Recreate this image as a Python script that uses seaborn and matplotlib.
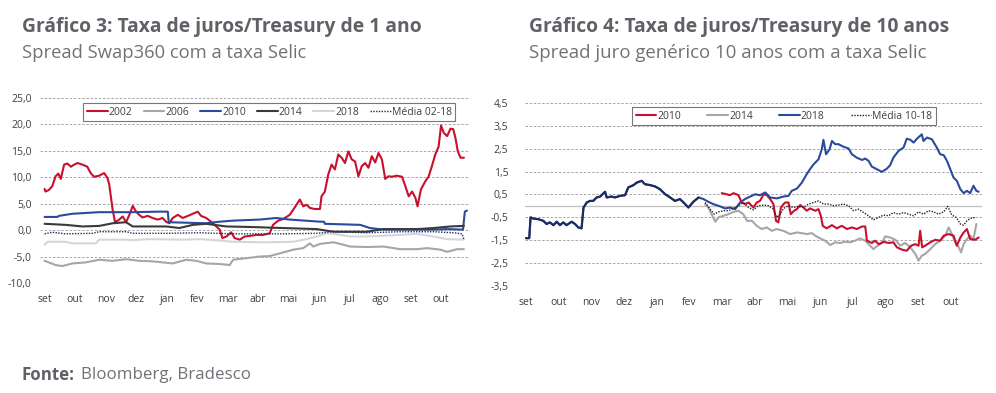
import numpy as np
import pandas as pd
import seaborn as sns
import matplotlib.pyplot as plt

# --- Grafico 3: spread Swap360 vs Selic (months since set) ---
m_2002 = [0.0, 0.03, 0.14, 0.25, 0.36, 0.45, 0.53, 0.64, 0.75, 0.86, 0.97, 1.08, 1.24, 1.40, 1.51, 1.62,
          1.79, 1.95, 2.06, 2.12, 2.23, 2.31, 2.45, 2.56, 2.67, 2.78, 2.89, 3.00, 3.10, 3.21, 3.38, 3.54,
          3.71, 3.87, 3.98, 4.09, 4.20, 4.37, 4.53, 4.70, 4.86, 5.02, 5.13, 5.30, 5.52, 5.74, 5.83, 5.96,
          6.12, 6.23, 6.40, 6.56, 6.73, 6.94, 7.16, 7.38, 7.49, 7.66, 7.82, 8.04, 8.26, 8.37, 8.48, 8.59,
          8.70, 8.86, 9.03, 9.08, 9.19, 9.30, 9.41, 9.52, 9.63, 9.74, 9.85, 9.96, 10.07, 10.18, 10.29,
          10.40, 10.51, 10.62, 10.73, 10.84, 10.95, 11.06, 11.17, 11.28, 11.39, 11.55, 11.72, 11.83,
          11.94, 12.05, 12.16, 12.23, 12.34, 12.48, 12.59, 12.70, 12.81, 12.92, 13.00, 13.09, 13.20,
          13.31, 13.40, 13.47, 13.55, 13.64, 13.75]
v_2002 = [7.8, 7.3, 7.6, 8.3, 10.2, 10.7, 9.7, 12.4, 12.6, 12.0, 12.4, 12.7, 12.4, 12.0, 10.8, 10.1,
          10.3, 10.8, 9.9, 8.6, 3.9, 1.5, 2.0, 2.6, 1.5, 2.9, 4.6, 3.5, 2.9, 2.4, 2.7, 2.3,
          2.0, 2.3, 1.6, 1.3, 2.3, 2.9, 2.3, 2.7, 3.1, 3.5, 2.7, 2.3, 1.3, 0.1, -1.5, -1.2,
          -0.4, -1.5, -1.8, -1.2, -1.1, -0.9, -0.9, -0.6, 1.0, 1.8, 2.1, 2.9, 4.8, 5.8, 4.5, 4.8,
          4.2, 4.0, 4.0, 6.4, 7.3, 10.5, 12.4, 11.5, 14.3, 13.7, 12.7, 14.9, 13.4, 13.0, 10.2,
          12.1, 12.7, 11.8, 14.0, 12.8, 14.6, 13.4, 9.7, 10.2, 10.1, 10.3, 10.1, 8.3,
          6.4, 7.3, 6.1, 4.5, 7.7, 9.2, 10.1, 12.1, 14.3, 15.8, 19.8, 18.4, 17.8,
          19.2, 19.1, 17.5, 14.9, 13.7, 13.7]

m_2006 = [0.0, 0.36, 0.58, 0.91, 1.35, 1.79, 2.23, 2.67, 3.10, 3.54, 4.20, 4.64, 4.97, 5.30, 5.74, 6.07,
          6.18, 6.62, 7.05, 7.38, 7.71, 8.15, 8.48, 8.70, 8.81, 9.03, 9.47, 9.69, 10.02, 10.56, 11.11,
          11.66, 12.21, 12.54, 12.98, 13.20, 13.53, 13.75]
v_2006 = [-5.8, -6.6, -6.8, -6.3, -6.1, -5.6, -5.8, -5.5, -5.8, -5.9, -6.3, -5.6, -5.8, -6.3, -6.4, -6.6,
          -5.6, -5.3, -5.0, -4.9, -4.4, -3.7, -3.4, -2.5, -3.1, -2.6, -2.3, -2.6, -3.1, -3.2, -3.1,
          -3.6, -3.6, -3.4, -3.7, -4.1, -3.6, -3.6]

m_2010 = [0.0, 0.42, 0.47, 0.91, 1.79, 2.89, 3.76, 4.04, 4.07, 5.30, 5.74, 6.18, 7.05, 7.60, 8.04, 9.03,
          9.16, 9.19, 10.35, 10.67, 11.11, 12.76, 13.20, 13.72, 13.78, 13.85]
v_2010 = [2.5, 2.5, 2.7, 3.1, 3.4, 3.4, 3.5, 3.5, 1.5, 1.3, 1.6, 1.8, 2.0, 2.3, 2.0, 1.6,
          1.6, 1.2, 1.0, 0.4, 0.1, 0.1, 0.2, 0.1, 3.5, 3.7]

m_2014 = [0.0, 0.69, 1.24, 1.79, 2.23, 2.67, 2.89, 3.98, 4.42, 4.86, 5.30, 5.96, 6.73, 7.82, 8.92, 9.47,
          10.56, 11.11, 12.21, 12.76, 13.31, 13.75]
v_2014 = [1.2, 1.0, 0.7, 0.8, 1.3, 1.5, 0.7, 0.7, 0.4, 1.0, 1.2, 0.7, 0.6, 0.4, 0.2, -0.3,
          -0.3, 0.2, 0.2, 0.4, 0.7, 0.8]

m_2018 = [0.0, 0.09, 0.69, 0.91, 1.68, 1.79, 2.67, 2.89, 3.43, 4.53, 5.08, 5.63, 6.18, 7.27, 8.15, 8.59,
          8.92, 9.25, 9.47, 10.02, 10.56, 11.66, 12.21, 12.76, 13.20, 13.75]
v_2018 = [-2.8, -2.2, -2.2, -2.5, -2.5, -1.8, -1.8, -1.9, -1.7, -1.8, -1.7, -1.9, -2.2, -2.3, -2.2, -1.7,
          -1.2, -0.6, -0.7, -1.2, -1.2, -0.9, -0.7, -1.2, -1.7, -1.8]

m_media0218 = [0.0, 0.25, 0.69, 1.57, 1.79, 2.67, 2.89, 3.98, 5.08, 6.18, 7.82, 8.92, 9.47, 10.56, 11.66,
               12.76, 13.42, 13.69, 13.75]
v_media0218 = [-0.7, -0.4, -0.7, -0.6, -0.3, -0.3, -0.6, -0.6, -0.5, -0.7, -0.7, -0.6, -0.3, -0.5, -0.3,
               -0.3, -0.5, -0.7, -1.8]

# --- Grafico 4: spread juro generico 10 anos vs Selic ---
r_m_2018 = [0.00, 0.10, 0.14, 0.22, 0.38, 0.53, 0.63, 0.73, 0.84, 0.94, 1.04, 1.14, 1.24, 1.40, 1.50, 1.60,
            1.70, 1.76, 1.86, 1.96, 2.06, 2.16, 2.27, 2.42, 2.47, 2.62, 2.72, 2.88, 3.03, 3.13, 3.29, 3.39,
            3.54, 3.64, 3.80, 3.95, 4.10, 4.26, 4.41, 4.56, 4.71, 4.82, 4.97, 5.12, 5.28, 5.43, 5.58, 5.73,
            5.94, 6.09, 6.24, 6.40, 6.55, 6.70, 6.86, 7.01, 7.16, 7.32, 7.47, 7.67, 7.88, 8.03, 8.13, 8.29,
            8.44, 8.59, 8.69, 8.80, 8.95, 9.05, 9.10, 9.18, 9.29, 9.36, 9.46, 9.56, 9.71, 9.87, 9.97, 10.12,
            10.28, 10.38, 10.48, 10.58, 10.73, 10.89, 11.04, 11.14, 11.24, 11.40, 11.55, 11.65, 11.76,
            11.86, 11.96, 12.11, 12.16, 12.27, 12.42, 12.57, 12.67, 12.78, 12.88, 12.98, 13.08, 13.18,
            13.29, 13.39, 13.49, 13.59, 13.69, 13.78, 13.85]
r_v_2018 = [-1.41, -1.41, -0.50, -0.55, -0.58, -0.65, -0.79, -0.72, -0.84, -0.69, -0.84, -0.72, -0.84, -0.69,
            -0.79, -0.94, -0.98, -0.07, 0.15, 0.22, 0.22, 0.37, 0.41, 0.62, 0.37, 0.41, 0.37, 0.44, 0.47,
            0.81, 0.91, 1.02, 1.10, 0.95, 0.91, 0.85, 0.73, 0.51, 0.37, 0.22, 0.30, 0.15, -0.07, 0.18, 0.37,
            0.30, 0.18, 0.08, -0.02, -0.11, -0.07, -0.14, 0.15, 0.30, 0.41, 0.51, 0.47, 0.59, 0.37, 0.33,
            0.41, 0.44, 0.66, 0.76, 1.02, 1.39, 1.61, 1.82, 2.04, 2.48, 2.89, 2.26, 2.48, 2.84, 2.70, 2.70,
            2.59, 2.51, 2.26, 2.11, 2.01, 2.07, 1.97, 1.72, 1.61, 1.49, 1.63, 1.78, 2.11, 2.41, 2.55, 2.94,
            2.89, 2.77, 2.94, 3.13, 2.84, 2.99, 2.91, 2.55, 2.26, 2.22, 1.97, 1.61, 1.24, 1.10, 0.73, 0.56,
            0.66, 0.56, 0.88, 0.66, 0.62]

r_m_2010 = [5.99, 6.14, 6.24, 6.35, 6.50, 6.60, 6.70, 6.81, 6.96, 7.06, 7.16, 7.27, 7.37, 7.47, 7.57, 7.65,
            7.72, 7.80, 7.88, 7.93, 8.03, 8.10, 8.20, 8.29, 8.39, 8.49, 8.59, 8.69, 8.85, 8.95, 9.02, 9.08,
            9.20, 9.36, 9.51, 9.66, 9.82, 9.97, 10.12, 10.28, 10.38, 10.43, 10.58, 10.68, 10.79, 10.94,
            11.09, 11.24, 11.35, 11.50, 11.65, 11.78, 11.91, 12.01, 12.06, 12.12, 12.21, 12.37, 12.52,
            12.67, 12.78, 12.93, 13.08, 13.18, 13.29, 13.39, 13.49, 13.59, 13.74, 13.85]
r_v_2010 = [0.56, 0.51, 0.47, 0.56, 0.47, 0.15, 0.08, 0.15, -0.07, 0.15, 0.22, 0.51, 0.47, 0.30, 0.08, -0.65,
            -0.72, -0.07, 0.08, 0.15, 0.15, -0.36, -0.21, -0.14, 0.04, -0.07, -0.21, -0.11, -0.21, -0.14,
            -0.43, -0.87, -0.98, -0.84, -0.98, -0.87, -1.01, -0.94, -1.01, -0.90, -0.90, -1.52, -1.62,
            -1.52, -1.67, -1.57, -1.62, -1.59, -1.81, -1.91, -1.96, -1.74, -1.67, -1.74, -1.09, -1.81,
            -1.74, -1.59, -1.48, -1.52, -1.30, -1.23, -1.30, -1.74, -1.38, -1.16, -1.01, -1.45, -1.48, -1.38]

r_m_2014 = [5.48, 5.58, 5.68, 5.79, 5.89, 6.04, 6.19, 6.35, 6.50, 6.65, 6.76, 6.91, 7.06, 7.21, 7.37, 7.52,
            7.67, 7.88, 8.08, 8.29, 8.44, 8.59, 8.74, 8.85, 9.00, 9.15, 9.31, 9.46, 9.61, 9.77, 9.92, 10.07,
            10.22, 10.38, 10.53, 10.63, 10.73, 10.89, 10.99, 11.14, 11.30, 11.45, 11.60, 11.76, 11.91,
            12.01, 12.11, 12.21, 12.37, 12.52, 12.67, 12.83, 12.93, 13.03, 13.13, 13.23, 13.31, 13.39,
            13.49, 13.59, 13.69, 13.78]
r_v_2014 = [0.08, -0.07, -0.36, -0.69, -0.50, -0.43, -0.36, -0.26, -0.21, -0.36, -0.65, -0.65, -0.87, -1.01,
            -0.94, -1.09, -1.01, -1.09, -1.23, -1.16, -1.19, -1.23, -1.19, -1.30, -1.42, -1.52, -1.71, -1.59,
            -1.62, -1.57, -1.59, -1.52, -1.42, -1.52, -1.74, -1.89, -1.77, -1.62, -1.33, -1.38, -1.48, -1.74,
            -1.62, -1.81, -2.10, -2.39, -2.18, -2.10, -1.89, -1.67, -1.52, -1.30, -0.94, -1.23, -1.59, -1.77,
            -2.03, -1.67, -1.45, -1.30, -1.45, -0.79]

r_m_media1018 = [5.48, 5.63, 5.76, 5.89, 6.04, 6.19, 6.35, 6.50, 6.65, 6.81, 6.96, 7.11, 7.27, 7.42, 7.57,
                 7.67, 7.78, 7.88, 8.03, 8.18, 8.34, 8.49, 8.64, 8.80, 8.95, 9.10, 9.26, 9.41, 9.56, 9.71,
                 9.87, 10.02, 10.17, 10.33, 10.48, 10.63, 10.79, 10.94, 11.09, 11.24, 11.40, 11.55, 11.70,
                 11.86, 12.01, 12.16, 12.32, 12.47, 12.62, 12.78, 12.90, 13.03, 13.16, 13.29, 13.39, 13.49,
                 13.59, 13.74]
r_v_media1018 = [0.15, -0.14, -0.36, -0.26, -0.21, -0.21, -0.11, 0.01, 0.15, -0.07, -0.17, 0.01, 0.04, 0.01,
                 -0.14, -0.50, -0.36, -0.11, 0.01, -0.07, -0.02, -0.07, 0.08, 0.15, 0.22, 0.08, 0.08, 0.01,
                 0.04, 0.08, 0.01, -0.21, -0.14, -0.29, -0.43, -0.61, -0.50, -0.40, -0.43, -0.29, -0.36,
                 -0.29, -0.36, -0.43, -0.26, -0.36, -0.21, -0.26, -0.36, -0.26, -0.02, -0.40, -0.50, -0.79,
                 -0.84, -0.65, -0.55, -0.50]

month_labels = ["set", "out", "nov", "dez", "jan", "fev", "mar", "abr", "mai", "jun", "jul", "ago", "set", "out"]
left_yticks = [25, 20, 15, 10, 5, 0, -5, -10]
right_yticks = [4.5, 3.5, 2.5, 1.5, 0.5, -0.5, -1.5, -2.5, -3.5]

RED = "#C8102E"
GRAY = "#A6A6A6"
LIGHT = "#D6D6D6"
BLUE = "#2B4A9B"
NAVY = "#1F2B5C"
DARK = "#3A3A3A"
TXT = "#5F6166"
SUB = "#707277"

sns.set_style("white")
plt.rcParams["font.family"] = ["Open Sans", "DejaVu Sans"]

fig = plt.figure(figsize=(9.96, 3.93), dpi=100)
ax1 = fig.add_axes([0.0402, 0.2799, 0.4317, 0.4707])
ax2 = fig.add_axes([0.5271, 0.2723, 0.4588, 0.4656])


def fmt_br(v, dec):
    return f"{v:.{dec}f}".replace(".", ",")


def style_axis(ax, yticks, dec, ypad):
    ax.set_yticks(yticks)
    ax.set_yticklabels([fmt_br(t, dec) for t in yticks])
    ax.set_xticks(range(len(month_labels)))
    ax.set_xticklabels(month_labels)
    ax.tick_params(axis="both", length=0, labelsize=7.5, labelcolor="#404040")
    ax.tick_params(axis="x", pad=8)
    ax.tick_params(axis="y", pad=ypad)
    ax.grid(axis="y", color="#9A9A9A", linestyle=(0, (3, 2)), linewidth=0.6)
    ax.grid(axis="x", visible=False)
    ax.set_xlabel("")
    ax.set_ylabel("")
    sns.despine(ax=ax, left=True, bottom=True)


leg_kw = dict(fontsize=7.5, frameon=True, fancybox=False, edgecolor="#555555", handlelength=2.0,
              handletextpad=0.1, borderpad=0.35, borderaxespad=0, labelcolor="#404040")

# left chart
sns.lineplot(x=m_2002, y=v_2002, ax=ax1, color=RED, lw=1.5, label="2002")
sns.lineplot(x=m_2006, y=v_2006, ax=ax1, color=GRAY, lw=1.5, label="2006")
sns.lineplot(x=m_2010, y=v_2010, ax=ax1, color=BLUE, lw=1.5, label="2010")
sns.lineplot(x=m_2014, y=v_2014, ax=ax1, color=DARK, lw=1.5, label="2014")
sns.lineplot(x=m_2018, y=v_2018, ax=ax1, color=LIGHT, lw=1.5, label="2018")
sns.lineplot(x=m_media0218, y=v_media0218, ax=ax1, color=NAVY, lw=1.0, linestyle=(0, (1, 1)),
             label="Média 02-18")
ax1.set_xlim(-0.15, 13.95)
ax1.set_ylim(-10, 25)
style_axis(ax1, left_yticks, 1, 6)
ax1.legend(ncol=6, loc="upper right", bbox_to_anchor=(0.966, 0.973), columnspacing=1.05,
           **leg_kw).get_frame().set_linewidth(0.8)

# right chart
sns.lineplot(x=r_m_2014, y=r_v_2014, ax=ax2, color=GRAY, lw=1.5, label="2014")
sns.lineplot(x=r_m_2010, y=r_v_2010, ax=ax2, color=RED, lw=1.5, label="2010")
sns.lineplot(x=r_m_2018, y=r_v_2018, ax=ax2, color=BLUE, lw=1.5, label="2018")
early = [m <= 5.3 for m in r_m_2018]
sns.lineplot(x=[m for m, e in zip(r_m_2018, early) if e], y=[v for v, e in zip(r_v_2018, early) if e],
             ax=ax2, color=NAVY, lw=1.5, label="_nolegend_")
sns.lineplot(x=r_m_media1018, y=r_v_media1018, ax=ax2, color="#222222", lw=1.0, linestyle=(0, (1, 1)),
             label="Média 10-18")
ax2.axhline(0, color="#BFBFBF", lw=0.9, zorder=0)
ax2.set_xlim(-0.03, 13.95)
ax2.set_ylim(-3.5, 4.5)
style_axis(ax2, right_yticks, 1, 12)
h, l = ax2.get_legend_handles_labels()
order = [l.index(k) for k in ["2010", "2014", "2018", "Média 10-18"]]
ax2.legend([h[i] for i in order], [l[i] for i in order], ncol=4, loc="upper left",
           bbox_to_anchor=(0.234, 0.978), columnspacing=2.5, **leg_kw).get_frame().set_linewidth(0.8)

# titles
fig.text(0.022, 0.931, "Gráfico 3: Taxa de juros/Treasury de 1 ano", fontsize=13.9, fontweight="bold",
         color=TXT, va="center")
fig.text(0.022, 0.866, "Spread Swap360 com a taxa Selic", fontsize=13.2, color=SUB, va="center")
fig.text(0.531, 0.931, "Gráfico 4: Taxa de juros/Treasury de 10 anos", fontsize=13.9, fontweight="bold",
         color=TXT, va="center")
fig.text(0.531, 0.866, "Spread juro genérico 10 anos com a taxa Selic", fontsize=13.4, color=SUB,
         va="center")
fig.text(0.022, 0.046, "Fonte:", fontsize=12.2, fontweight="bold", color=TXT, va="center")
fig.text(0.081, 0.046, "Bloomberg, Bradesco", fontsize=12.2, color=SUB, va="center")

fig.savefig("out.png", dpi=100, facecolor="white")
